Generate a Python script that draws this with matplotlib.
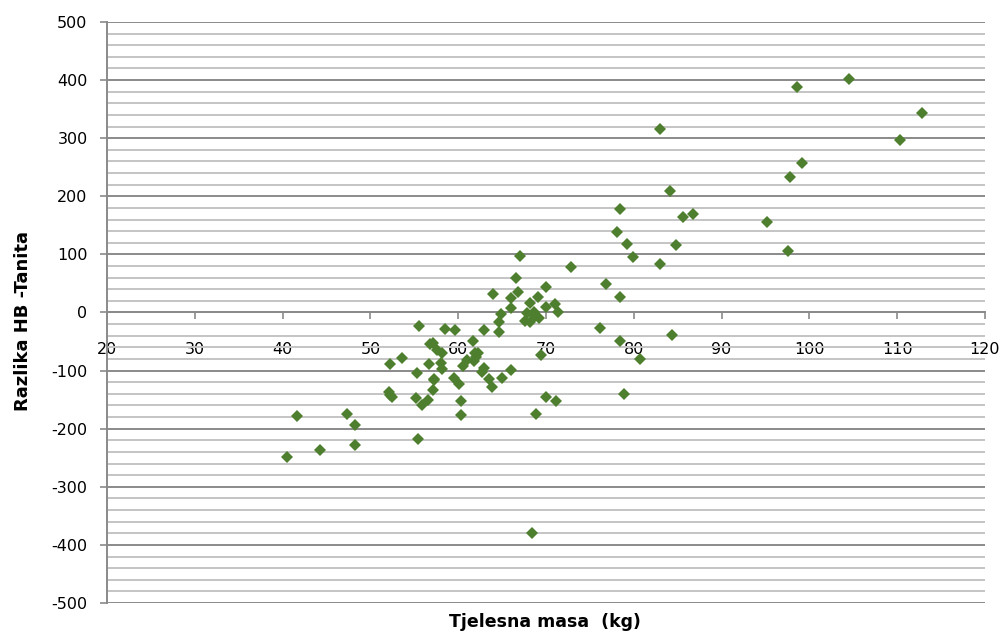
import numpy as np
import matplotlib
matplotlib.use('Agg')
import matplotlib.pyplot as plt
from matplotlib.ticker import MultipleLocator

plt.rcParams['axes.unicode_minus'] = False

# body mass (kg) and difference HB - Tanita
mass = [104.5, 98.6, 112.8, 83.0, 110.3, 99.2, 97.8, 84.1, 78.4, 86.7,
        85.6, 95.2, 78.1, 79.2, 84.8, 97.6, 67.0, 79.9, 83.0, 72.8,
        66.6, 76.8, 70.0, 66.8, 64.0, 66.0, 69.1, 78.4, 68.2, 71.0,
        70.0, 66.0, 71.4, 68.6, 67.8, 64.9, 68.8, 69.2, 67.6, 68.2,
        64.7, 55.5, 76.2, 58.5, 62.9, 59.6, 64.7, 84.4, 78.4, 61.7,
        57.1, 56.8, 57.6, 58.1, 62.3, 61.9, 69.4, 62.0, 53.6, 80.7,
        61.0, 61.8, 58.0, 52.2, 56.7, 60.5, 62.9, 58.1, 66.0, 62.7,
        55.3, 65.0, 59.5, 57.2, 63.5, 57.3, 60.1, 63.8, 57.1, 52.1,
        78.9, 52.2, 70.0, 52.5, 55.2, 56.6, 60.3, 71.1, 55.9, 68.9,
        47.3, 60.3, 41.6, 48.2, 55.4, 48.3, 44.3, 40.5, 68.4]
diff = [401, 388, 343, 316, 297, 257, 233, 209, 178, 169,
        164, 156, 138, 118, 116, 106, 98, 95, 84, 79,
        60, 49, 44, 36, 31, 25, 26, 26, 16, 15,
        9, 7, 1, 0, -1, -3, -6, -10, -15, -16,
        -17, -23, -27, -28, -30, -30, -34, -38, -49, -49,
        -52, -54, -65, -69, -69, -70, -74, -76, -79, -80,
        -81, -83, -87, -89, -89, -92, -96, -97, -99, -103,
        -105, -112, -113, -114, -115, -117, -123, -129, -134, -136,
        -140, -142, -145, -145, -147, -151, -153, -153, -159, -174,
        -175, -177, -178, -194, -217, -228, -236, -248, -379]

x_ticks = list(range(20, 121, 10))
y_ticks = list(range(-500, 501, 100))

fig = plt.figure(figsize=(10.02, 6.35), dpi=100)
ax = fig.add_axes([0.1068, 0.0504, 0.8762, 0.915])

grid_major = '#8a8a8a'
grid_minor = '#c4c4c4'

ax.set_xlim(20, 120)
ax.set_ylim(-500, 500)
ax.set_xticks(x_ticks)
ax.set_yticks(y_ticks)
ax.yaxis.set_minor_locator(MultipleLocator(20))

ax.grid(axis='y', which='major', color=grid_major, linewidth=1.4)
ax.grid(axis='y', which='minor', color=grid_minor, linewidth=1.4)
ax.set_axisbelow(True)

for s in ['top', 'right']:
    ax.spines[s].set_visible(False)
ax.spines['bottom'].set_position(('data', 0))
ax.spines['bottom'].set_color(grid_major)
ax.spines['bottom'].set_linewidth(1.4)
ax.spines['left'].set_color(grid_major)
ax.spines['left'].set_linewidth(1.4)

ax.tick_params(axis='x', which='major', direction='out', length=5, width=1.2,
               color=grid_major, pad=16, labelsize=11.5, labelcolor='black')
ax.tick_params(axis='y', which='major', direction='out', length=5, width=1.2,
               color=grid_major, pad=9, labelsize=11.5, labelcolor='black')
ax.tick_params(axis='y', which='minor', length=0)

ax.plot(mass, diff, linestyle='none', marker='D', markersize=6,
        color='#4e7f2e', markeredgewidth=0, zorder=3)

fig.text(0.023, 0.495, 'Razlika HB -Tanita', rotation=90, ha='center',
         va='center', fontsize=13, fontweight='bold')
fig.text(0.544, 0.02, 'Tjelesna masa  (kg)', ha='center', va='center',
         fontsize=12.5, fontweight='bold')

fig.savefig('out.png', dpi=100)
